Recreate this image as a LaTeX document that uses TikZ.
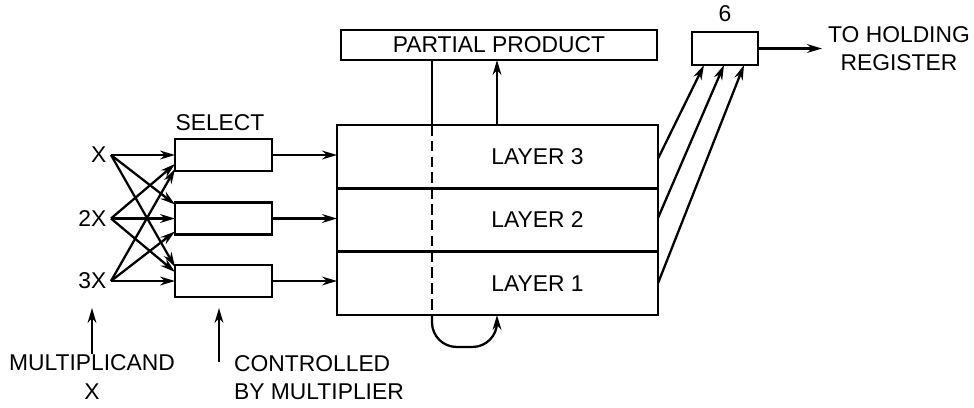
\documentclass[tikz,border=0pt]{standalone}
\usepackage{fontspec}
\setmainfont{Liberation Sans}
\usepackage{tikz}
\usetikzlibrary{arrows.meta,calc}

\begin{document}
\begin{tikzpicture}[x=0.02cm, y=-0.02cm, line width=1.3pt,
    every node/.style={font=\fontsize{13}{16}\selectfont},
    box/.style={draw, rectangle, inner sep=0pt, outer sep=0pt},
    arr/.style={-{Stealth[length=8.5pt,width=5pt]}}]
  \useasboundingbox (0,0) rectangle (974,407);
  % Multiplicand inputs
  \node[anchor=east, inner sep=2pt] (mx)  at (111,155)   {X};
  \node[anchor=east, inner sep=2pt] (m2x) at (111,218.5) {2X};
  \node[anchor=east, inner sep=2pt] (m3x) at (111,281)   {3X};
  % Select boxes
  \node[box, minimum width=1.94cm, minimum height=0.64cm] (selA) at (223.5,155)   {};
  \node[box, minimum width=1.94cm, minimum height=0.64cm] (selB) at (223.5,218.5) {};
  \node[box, minimum width=1.94cm, minimum height=0.64cm] (selC) at (223.5,281)   {};
  \node (select) at (220,123) {SELECT};
  % X, 2X, 3X into every select box
  \draw[arr] (mx.east)  -- (selA.west);
  \draw[arr] (m2x.east) -- ($(selA.west)+(0,9)$);
  \draw[arr] (m3x.east) -- ($(selA.west)+(0,14)$);
  \draw[arr] (mx.east)  -- ($(selB.west)+(0,-14)$);
  \draw[arr] (m2x.east) -- (selB.west);
  \draw[arr] (m3x.east) -- ($(selB.west)+(0,13)$);
  \draw[arr] (mx.east)  -- ($(selC.west)+(0,-14)$);
  \draw[arr] (m2x.east) -- ($(selC.west)+(0,-9)$);
  \draw[arr] (m3x.east) -- (selC.west);
  % Layers
  \node[box, minimum width=6.42cm, minimum height=1.267cm] (layer3) at (497.5,156.7) {};
  \node[box, minimum width=6.42cm, minimum height=1.267cm] (layer2) at (497.5,220)   {};
  \node[box, minimum width=6.42cm, minimum height=1.267cm] (layer1) at (497.5,283.3) {};
  \node (lab3) at ([xshift=0.8cm]layer3.center) {LAYER 3};
  \node (lab2) at ([xshift=0.8cm]layer2.center) {LAYER 2};
  \node (lab1) at ([xshift=0.8cm]layer1.center) {LAYER 1};
  \draw[arr] (selA.east) -- (selA.east -| layer3.west);
  \draw[arr] (selB.east) -- (selB.east -| layer2.west);
  \draw[arr] (selC.east) -- (selC.east -| layer1.west);
  % Partial product and feedback
  \node[box, minimum width=6.32cm, minimum height=0.6cm] (pp) at (499,45) {PARTIAL PRODUCT};
  \coordinate (fbx) at (432,0);
  \coordinate (upx) at (497,0);
  \draw (pp.south -| fbx) -- (layer3.north -| fbx);
  \draw[dash pattern=on 6pt off 3pt] (layer3.north -| fbx) -- (layer1.south -| fbx);
  \draw[arr, rounded corners=14] (layer1.south -| fbx) -- ++(0,32) -| (layer1.south -| upx);
  \draw[arr] (layer3.north -| upx) -- (pp.south -| upx);
  % Box 6 and output
  \node[box, minimum width=1.32cm, minimum height=0.66cm] (six) at (725,48.5) {};
  \node (sixlab) at (725,14) {6};
  \draw[arr] ($(layer3.east)+(0,2)$) -- ($(six.south)+(-21,0)$);
  \draw[arr] ($(layer2.east)+(0,-2)$) -- ($(six.south)+(-1,0)$);
  \draw[arr] (layer1.east) -- ($(six.south)+(19,0)$);
  \coordinate (hold) at (822,48.5);
  \draw[arr] (six.east) -- (hold);
  \node[anchor=west, align=center, inner sep=0pt] (holdlab) at ([xshift=0.1cm]hold) {TO HOLDING\\REGISTER};
  % Captions
  \node[align=center, inner sep=0pt] (mult) at (92,377) {MULTIPLICAND\\X};
  \coordinate (multtip) at (92,308);
  \draw[arr] (mult.north) -- (multtip);
  \node[align=left, anchor=west, inner sep=0pt] (ctrl) at (233,378) {CONTROLLED\\BY MULTIPLIER};
  \coordinate (ctrlbase) at (219,362);
  \coordinate (ctrltip) at (219,308);
  \draw[arr] (ctrlbase) -- (ctrltip);
\end{tikzpicture}
\end{document}
